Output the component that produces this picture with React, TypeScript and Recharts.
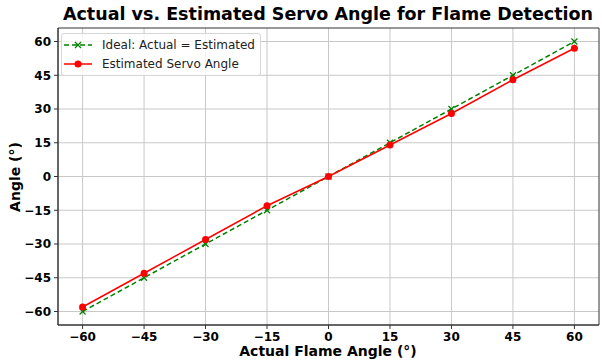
import { LineChart, Line, XAxis, YAxis, CartesianGrid, ReferenceArea } from "recharts";

const actualAngles = [-60, -45, -30, -15, 0, 15, 30, 45, 60];
const idealAngles = [-60, -45, -30, -15, 0, 15, 30, 45, 60];
const estimatedAngles = [-58, -43, -28, -13, 0, 14, 28, 43, 57];
const tickValues = [-60, -45, -30, -15, 0, 15, 30, 45, 60];

const data = actualAngles.map((a, i) => ({ actual: a, ideal: idealAngles[i], estimated: estimatedAngles[i] }));

const FONT = "'DejaVu Sans', sans-serif";
const fmt = (v: number) => String(v).replace("-", "\u2212");

const XDot = (props: any) => {
  const { cx, cy } = props;
  if (cx == null || cy == null) return null;
  const s = 3;
  return (
    <path d={`M${cx - s},${cy - s}L${cx + s},${cy + s}M${cx - s},${cy + s}L${cx + s},${cy - s}`} stroke="#008000" strokeWidth={1.2} fill="none" />
  );
};

const handleStyle = { marginRight: 9, flexShrink: 0 };

const LegendBox = () => (
  <div style={{ position: "absolute", left: 61, top: 33, border: "1px solid #d6d6d6", borderRadius: 3, background: "rgba(255,255,255,0.8)", padding: "2px 5px 2px 1px", fontFamily: FONT, fontSize: 12, color: "#222", lineHeight: "18.5px", whiteSpace: "nowrap" }}>
    <div style={{ display: "flex", alignItems: "center" }}>
      <svg width={30} height={10} style={handleStyle}>
        <line x1={1} y1={5} x2={29} y2={5} stroke="#008000" strokeWidth={1.5} strokeDasharray="5 3" />
        <path d="M12,2L18,8M12,8L18,2" stroke="#008000" strokeWidth={1.2} />
      </svg>
      <span>Ideal: Actual = Estimated</span>
    </div>
    <div style={{ display: "flex", alignItems: "center" }}>
      <svg width={30} height={10} style={handleStyle}>
        <line x1={1} y1={5} x2={29} y2={5} stroke="#ff0000" strokeWidth={1.5} />
        <circle cx={15} cy={5} r={3.5} fill="#ff0000" />
      </svg>
      <span>Estimated Servo Angle</span>
    </div>
  </div>
);

export default function App() {
  return (
    <div style={{ position: "absolute", left: 0, top: 0, width: 602, height: 362, background: "#fff" }}>
      <div style={{ position: "absolute", left: 58, width: 540, top: 4, textAlign: "center", fontFamily: FONT, fontWeight: "bold", fontSize: 17.5, color: "#000" }}>
        Actual vs. Estimated Servo Angle for Flame Detection
      </div>
      <div style={{ position: "absolute", left: 58, width: 540, top: 343, textAlign: "center", fontFamily: FONT, fontWeight: "bold", fontSize: 14, color: "#000" }}>
        Actual Flame Angle (°)
      </div>
      <div style={{ position: "absolute", left: 15, top: 177, transform: "translate(-50%, -50%) rotate(-90deg)", fontFamily: FONT, fontWeight: "bold", fontSize: 14, color: "#000", whiteSpace: "nowrap" }}>
        Angle (°)
      </div>
      <LineChart width={602} height={362} data={data} margin={{ top: 28, right: 3, left: 0, bottom: 0 }}>
        <CartesianGrid stroke="#c8c8c8" strokeWidth={1} horizontalValues={tickValues} verticalValues={tickValues} />
        <XAxis
          dataKey="actual"
          type="number"
          domain={[-66, 66]}
          ticks={tickValues}
          allowDataOverflow
          height={37}
          tickFormatter={fmt}
          tickSize={4}
          tickMargin={3}
          stroke="#333"
          tick={{ fontFamily: FONT, fontSize: 12, fontWeight: "bold", fill: "#000" }}
        />
        <YAxis
          type="number"
          domain={[-66, 66]}
          ticks={tickValues}
          allowDataOverflow
          width={58}
          tickFormatter={fmt}
          tickSize={4}
          tickMargin={3}
          stroke="#333"
          tick={{ fontFamily: FONT, fontSize: 12, fontWeight: "bold", fill: "#000" }}
        />
        <ReferenceArea x1={-66} x2={66} y1={-66} y2={66} fill="none" stroke="#333" strokeWidth={1} ifOverflow="visible" />
        <Line dataKey="ideal" stroke="#008000" strokeWidth={1.5} strokeDasharray="5 3" dot={<XDot />} activeDot={false} isAnimationActive={false} />
        <Line dataKey="estimated" stroke="#ff0000" strokeWidth={1.5} dot={{ r: 3.5, fill: "#ff0000", stroke: "#ff0000", strokeWidth: 0 }} activeDot={false} isAnimationActive={false} />
      </LineChart>
      <LegendBox />
    </div>
  );
}
